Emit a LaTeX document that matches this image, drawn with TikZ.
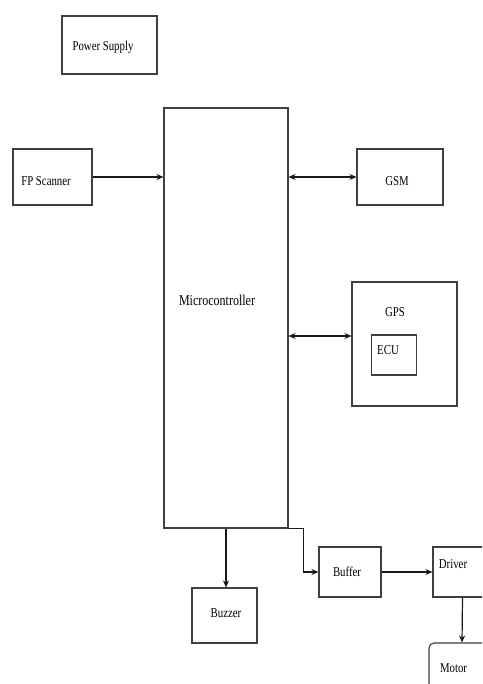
\documentclass[tikz,border=0pt]{standalone}
\usepackage{fontspec}
\setmainfont{Liberation Serif}[FakeStretch=0.8]
\usetikzlibrary{arrows.meta}
\begin{document}
\begin{tikzpicture}[x=1pt,y=-1pt,
  box/.style={draw=black!75, line width=1.1pt, inner sep=0pt, rectangle},
  lbl/.style={font=\fontsize{13.5}{15}\selectfont, inner sep=0pt, text=black},
  arr/.style={line width=1.2pt, draw=black!90, -{Stealth[length=7pt,width=6pt]}},
  barr/.style={line width=1.2pt, draw=black!90, {Stealth[length=7pt,width=6pt]}-{Stealth[length=7pt,width=6pt]}}]
\useasboundingbox (0,0) rectangle (482,684);
\fill[white] (0,0) rectangle (482,684);
\clip (0,0) rectangle (482,684);
% boxes
\node[box,minimum width=95pt,minimum height=58pt] (ps) at (109.5,45) {};
\node[lbl] at (103,47) {Power Supply};
\node[box,minimum width=124pt,minimum height=420pt] (mc) at (226,318) {};
\node[lbl,font=\fontsize{15}{17}\selectfont] at (217,300) {Microcontroller};
\node[box,minimum width=79pt,minimum height=56pt] (fp) at (52.5,177) {};
\node[lbl] at (46,181) {FP Scanner};
\node[box,minimum width=86pt,minimum height=56pt] (gsm) at (400,177) {};
\node[lbl] at (397,181) {GSM};
\node[box,minimum width=105pt,minimum height=124pt] (gps) at (404.5,344) {};
\node[lbl] at (395,312) {GPS};
\node[box,minimum width=45pt,minimum height=40pt] (ecu) at (394,355) {};
\node[lbl] at (388,350) {ECU};
\node[box,minimum width=65pt,minimum height=55pt] (buz) at (224.5,615.5) {};
\node[lbl] at (226,613) {Buzzer};
\node[box,minimum width=62pt,minimum height=50pt] (buf) at (350,572) {};
\node[lbl] at (347,572) {Buffer};
\node[box,minimum width=59pt,minimum height=50pt] (drv) at (462.5,572) {};
\node[lbl] at (453,564) {Driver};
\node[box,rounded corners=5pt,minimum width=66pt,minimum height=57pt] (mot) at (462,671.5) {};
\node[lbl] at (453.5,668) {Motor};
% connectors
\coordinate (g) at (320,336);
\draw[arr] (fp.east) -- (fp.east -| mc.west);
\draw[barr] (gsm.west -| mc.east) -- (gsm.west);
\draw[barr] (mc.east |- g) -- (gps.west |- g);
\draw[arr] (mc.south) -- (mc.south |- buz.north);
\draw[arr] (mc.south east) -- ++(15,0) |- (buf.west);
\draw[arr] (buf.east) -- (drv.west);
\draw[arr] (drv.south) -- (mot.north);
\end{tikzpicture}
\end{document}
